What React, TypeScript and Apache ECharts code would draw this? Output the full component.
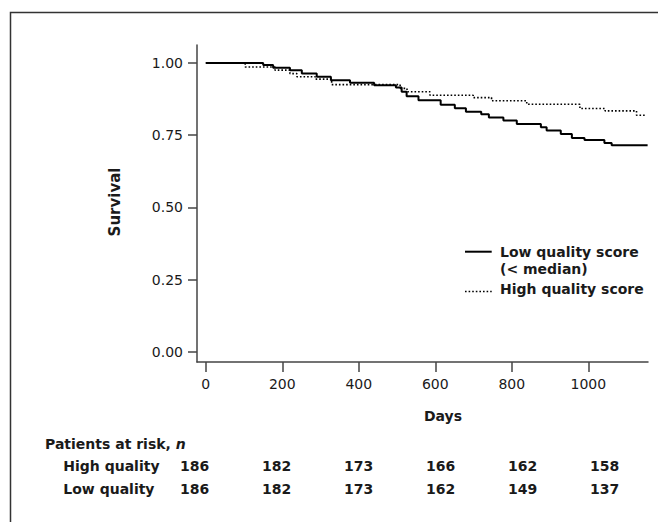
import React, { useEffect, useRef } from "react";
import * as echarts from "echarts";

// Kaplan-Meier steps
const lowDays = [0, 150, 176, 220, 251, 290, 327, 377, 440, 497, 512, 525, 556, 614, 651, 680, 720, 740, 778, 813, 876, 891, 928, 957, 990, 1042, 1061, 1155];
const lowSurv = [1, 0.993, 0.983, 0.975, 0.963, 0.952, 0.94, 0.931, 0.923, 0.915, 0.9, 0.885, 0.871, 0.855, 0.843, 0.831, 0.822, 0.811, 0.801, 0.789, 0.777, 0.766, 0.754, 0.74, 0.733, 0.723, 0.715, 0.715];
const highDays = [0, 103, 181, 220, 238, 286, 329, 508, 526, 586, 699, 747, 839, 978, 1044, 1126, 1152];
const highSurv = [1, 0.986, 0.975, 0.963, 0.952, 0.944, 0.925, 0.912, 0.9, 0.888, 0.88, 0.869, 0.857, 0.842, 0.834, 0.819, 0.819];

const xTicks = [0, 200, 400, 600, 800, 1000];
const yTicks = [0, 0.25, 0.5, 0.75, 1.0];

const riskRows = ["High quality", "Low quality"];
const riskHigh = [186, 182, 173, 166, 162, 158];
const riskLow = [186, 182, 173, 162, 149, 137];

const FONT = "DejaVu Sans";
const AX = "#444";
const TXT = "#1a1a1a";

export default function App() {
  const ref = useRef<HTMLDivElement>(null);
  useEffect(() => {
    if (!ref.current) return;
    const chart = echarts.init(ref.current, undefined, { renderer: "svg" });

    const boldText = (text: string, x: number, y: number, align = "left") => ({
      type: "text",
      x,
      y,
      silent: true,
      style: { text, fontFamily: FONT, fontSize: 14, fontWeight: "bold", fill: TXT, align, verticalAlign: "middle" },
    });

    const riskGraphics: any[] = [];
    const colX0 = 194.7;
    const colStep = 82;
    const rowY = [466.3, 488.7];
    [riskHigh, riskLow].forEach((arr, r) => {
      riskGraphics.push(boldText(riskRows[r], 63.3, rowY[r]));
      arr.forEach((v, i) => riskGraphics.push(boldText(String(v), colX0 + i * colStep, rowY[r], "center")));
    });

    const option: any = {
      animation: false,
      grid: { left: 197, top: 45, right: 10, bottom: 160 },
      xAxis: {
        type: "value",
        min: -23,
        max: 1156,
        axisLine: { onZero: false, lineStyle: { color: AX, width: 1.5 } },
        axisTick: { length: 10, customValues: xTicks, lineStyle: { color: AX, width: 1.5 } },
        axisLabel: {
          customValues: xTicks,
          margin: 15,
          fontFamily: FONT,
          fontSize: 14,
          color: TXT,
          formatter: (v: number) => String(v),
        },
        splitLine: { show: false },
      },
      yAxis: {
        type: "value",
        min: -0.035,
        max: 1.062,
        axisLine: { show: true, onZero: false, lineStyle: { color: AX, width: 1.5 } },
        axisTick: { show: true, length: 9, customValues: yTicks, lineStyle: { color: AX, width: 1.5 } },
        axisLabel: {
          customValues: yTicks,
          margin: 14,
          fontFamily: FONT,
          fontSize: 14,
          color: TXT,
          formatter: (v: number) => v.toFixed(2),
        },
        splitLine: { show: false },
      },
      series: [
        {
          name: "Low quality score (< median)",
          type: "line",
          step: "end",
          showSymbol: false,
          data: lowDays.map((d, i) => [d, lowSurv[i]]),
          lineStyle: { color: "#000", width: 2 },
          z: 3,
        },
        {
          name: "High quality score",
          type: "line",
          step: "end",
          showSymbol: false,
          data: highDays.map((d, i) => [d, highSurv[i]]),
          lineStyle: { color: "#000", width: 1.6, type: [1.6, 2] },
          z: 2,
        },
      ],
      graphic: [
        {
          type: "rect",
          silent: true,
          shape: { x: 10.5, y: 12.5, width: 800, height: 700 },
          style: { fill: "none", stroke: "#333", lineWidth: 1.5 },
        },
        {
          type: "text",
          x: 115,
          y: 202,
          rotation: Math.PI / 2,
          silent: true,
          style: { text: "Survival", fontFamily: FONT, fontSize: 15, fontWeight: "bold", fill: TXT, align: "center", verticalAlign: "middle" },
        },
        boldText("Days", 443, 416, "center"),
        // legend
        { type: "line", silent: true, shape: { x1: 465, y1: 251.7, x2: 491.7, y2: 251.7 }, style: { stroke: "#000", lineWidth: 2 } },
        boldText("Low quality score", 500, 251.5),
        boldText("(< median)", 500, 268.5),
        { type: "line", silent: true, shape: { x1: 465, y1: 291.5, x2: 491.7, y2: 291.5 }, style: { stroke: "#000", lineWidth: 1.6, lineDash: [1.6, 2] } },
        boldText("High quality score", 500, 289.3),
        // risk table
        {
          type: "text",
          x: 45,
          y: 443.7,
          silent: true,
          style: {
            text: "{a|Patients at risk, }{i|n}",
            fontFamily: FONT,
            fontSize: 14,
            fontWeight: "bold",
            fill: TXT,
            align: "left",
            verticalAlign: "middle",
            rich: {
              a: { fontFamily: FONT, fontSize: 14, fontWeight: "bold", fill: TXT },
              i: { fontFamily: FONT, fontSize: 14, fontWeight: "bold", fontStyle: "italic", fill: TXT },
            },
          },
        },
        ...riskGraphics,
      ],
    };
    chart.setOption(option);
    return () => chart.dispose();
  }, []);
  return <div ref={ref} style={{ position: "fixed", left: 0, top: 0, width: 658, height: 522, background: "#fff" }} />;
}
